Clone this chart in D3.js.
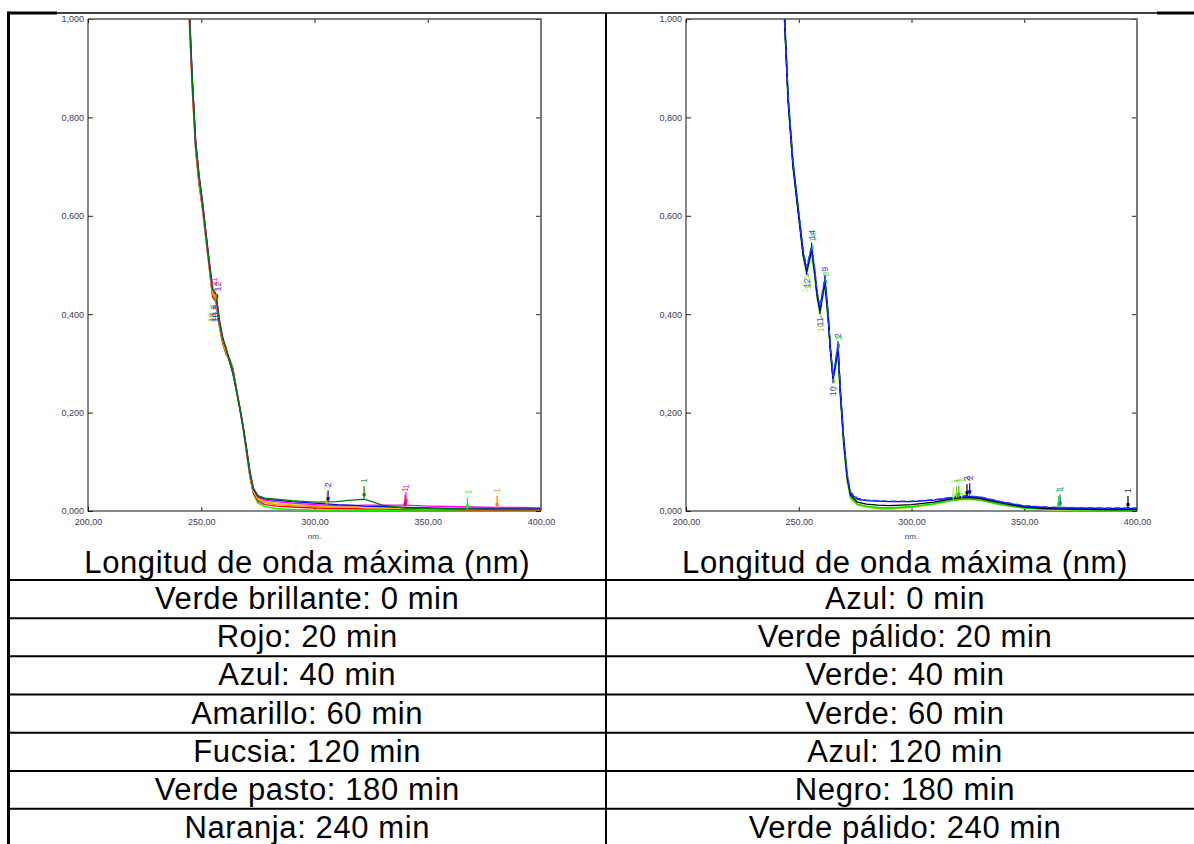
<!DOCTYPE html>
<html>
<head>
<meta charset="utf-8">
<script src="https://cdn.jsdelivr.net/npm/d3@7"></script>
<style>
  html, body { margin: 0; padding: 0; background: #fff; }
  svg { display: block; }
  text { font-family: "Liberation Sans", Arial, sans-serif; }
</style>
</head>
<body>
<svg id="chart" width="1194" height="844"></svg>
<script>
// ---------- data ----------
const xTicks = [200, 250, 300, 350, 400];
const yTicks = [0, 0.2, 0.4, 0.6, 0.8, 1.0];
const axisTitle = "Longitud de onda máxima (nm)";
const unitLabel = "nm.";

// Left panel: wavelengths (nm) and absorbance of each sample
const wlLeft = [244.5, 246, 247.5, 249, 250.5, 252, 253.5, 255, 256.5, 258, 259.5, 261, 262.5, 264, 265.5, 267, 268.5, 270, 271.5, 273, 275, 278, 283, 290, 300, 310, 316, 322, 330, 340, 350, 360, 370, 380, 390, 400];
const leftNames = ["Verde brillante: 0 min", "Rojo: 20 min", "Azul: 40 min", "Amarillo: 60 min", "Fucsia: 120 min", "Verde pasto: 180 min", "Naranja: 240 min"];
const leftColors = ["#00ff00", "#ff0000", "#0000ff", "#f0c000", "#ff00ff", "#008000", "#ff8000"];
const leftVerdeBrillante = [1.03, 0.87, 0.74, 0.67, 0.62, 0.56, 0.50, 0.44, 0.43, 0.38, 0.345, 0.32, 0.31, 0.29, 0.25, 0.21, 0.17, 0.12, 0.07, 0.035, 0.016, 0.009, 0.005, 0.003, 0.002, 0.002, 0.002, 0.001, 0.001, 0.001, 0.001, 0.001, 0.000, 0.000, 0.000, 0.000];
const leftRojo = [1.02, 0.86, 0.735, 0.665, 0.615, 0.555, 0.495, 0.435, 0.425, 0.375, 0.34, 0.318, 0.308, 0.288, 0.248, 0.208, 0.168, 0.118, 0.07, 0.037, 0.02, 0.013, 0.010, 0.008, 0.006, 0.005, 0.005, 0.004, 0.004, 0.003, 0.003, 0.003, 0.002, 0.002, 0.002, 0.002];
const leftAzul = [1.04, 0.88, 0.75, 0.68, 0.63, 0.565, 0.505, 0.45, 0.44, 0.385, 0.35, 0.33, 0.305, 0.28, 0.245, 0.21, 0.17, 0.125, 0.078, 0.045, 0.03, 0.025, 0.022, 0.019, 0.016, 0.013, 0.012, 0.010, 0.009, 0.007, 0.006, 0.005, 0.005, 0.004, 0.004, 0.004];
const leftAmarillo = [1.03, 0.875, 0.745, 0.675, 0.625, 0.56, 0.50, 0.445, 0.435, 0.38, 0.348, 0.325, 0.302, 0.278, 0.243, 0.207, 0.168, 0.122, 0.075, 0.042, 0.026, 0.02, 0.016, 0.013, 0.011, 0.009, 0.008, 0.007, 0.006, 0.005, 0.004, 0.004, 0.003, 0.003, 0.003, 0.003];
const leftFucsia = [1.05, 0.885, 0.755, 0.685, 0.63, 0.57, 0.51, 0.455, 0.44, 0.39, 0.352, 0.33, 0.305, 0.282, 0.247, 0.21, 0.172, 0.126, 0.077, 0.044, 0.028, 0.022, 0.019, 0.016, 0.013, 0.011, 0.011, 0.012, 0.012, 0.012, 0.010, 0.009, 0.008, 0.007, 0.007, 0.006];
const leftVerdePasto = [1.04, 0.88, 0.75, 0.68, 0.625, 0.565, 0.505, 0.45, 0.44, 0.385, 0.35, 0.328, 0.303, 0.28, 0.246, 0.21, 0.172, 0.127, 0.08, 0.047, 0.031, 0.026, 0.024, 0.021, 0.018, 0.019, 0.022, 0.024, 0.012, 0.006, 0.005, 0.004, 0.004, 0.003, 0.003, 0.003];
const leftNaranja = [1.03, 0.87, 0.745, 0.67, 0.62, 0.56, 0.50, 0.44, 0.43, 0.38, 0.343, 0.32, 0.306, 0.285, 0.25, 0.21, 0.17, 0.122, 0.073, 0.04, 0.023, 0.017, 0.013, 0.011, 0.009, 0.008, 0.008, 0.007, 0.006, 0.006, 0.005, 0.005, 0.004, 0.005, 0.004, 0.003];
const leftSeries = [leftVerdeBrillante, leftRojo, leftAzul, leftAmarillo, leftFucsia, leftVerdePasto, leftNaranja];
const leftOrder = [0, 1, 6, 3, 4, 2, 5];

// Left panel peak/valley picks: wavelength, absorbance, sample index, label, direction
const leftPicks = [
  { wl: 256.5, a: 0.43, s: 3, label: "12", dir: 1 },
  { wl: 257.2, a: 0.43, s: 2, label: "12", dir: 1 },
  { wl: 255.6, a: 0.44, s: 4, label: "11", dir: 1 },
  { wl: 254.4, a: 0.42, s: 0, label: "10", dir: -1 },
  { wl: 255.3, a: 0.42, s: 1, label: "11", dir: -1 },
  { wl: 256.1, a: 0.42, s: 2, label: "10", dir: -1 },
  { wl: 305.5, a: 0.011, s: 3, label: "2", dir: 1 },
  { wl: 306.0, a: 0.016, s: 2, label: "2", dir: 1 },
  { wl: 321.9, a: 0.024, s: 5, label: "1", dir: 1 },
  { wl: 340.4, a: 0.012, s: 4, label: "1", dir: 1 },
  { wl: 340.0, a: 0.006, s: 1, label: "1", dir: 1 },
  { wl: 367.5, a: 0.001, s: 0, label: "1", dir: 1 },
  { wl: 380.6, a: 0.004, s: 6, label: "1", dir: 1 }
];

// Right panel
const wlRight = [243.5, 245.3, 247.5, 249, 250.5, 252, 253.5, 254.5, 255.7, 257, 258.2, 259.4, 260.5, 261.6, 263, 264, 265.2, 266.3, 267.4, 268.5, 270, 271.5, 273, 276, 280, 285, 290, 300, 310, 318, 324, 330, 340, 350, 360, 370, 385, 400];
const rightNames = ["Azul: 0 min", "Verde pálido: 20 min", "Verde: 40 min", "Verde: 60 min", "Azul: 120 min", "Negro: 180 min", "Verde pálido: 240 min"];
const rightColors = ["#0000ff", "#99ff66", "#00e000", "#99cc00", "#2244ff", "#000000", "#ccff66"];
const rightAzul0 = [1.02, 0.835, 0.70, 0.64, 0.58, 0.52, 0.49, 0.51, 0.535, 0.49, 0.44, 0.41, 0.44, 0.47, 0.40, 0.33, 0.27, 0.30, 0.335, 0.24, 0.14, 0.07, 0.035, 0.024, 0.021, 0.020, 0.019, 0.019, 0.022, 0.027, 0.030, 0.028, 0.018, 0.010, 0.007, 0.006, 0.005, 0.005];
const rightVerdePalido20 = [1.01, 0.83, 0.695, 0.635, 0.575, 0.515, 0.48, 0.50, 0.52, 0.48, 0.43, 0.40, 0.43, 0.455, 0.39, 0.325, 0.265, 0.29, 0.32, 0.23, 0.13, 0.06, 0.025, 0.012, 0.008, 0.006, 0.006, 0.008, 0.014, 0.022, 0.026, 0.024, 0.014, 0.007, 0.004, 0.003, 0.002, 0.002];
const rightVerde40 = [1.03, 0.84, 0.705, 0.645, 0.585, 0.525, 0.485, 0.505, 0.53, 0.485, 0.435, 0.405, 0.435, 0.46, 0.395, 0.33, 0.27, 0.295, 0.325, 0.235, 0.135, 0.065, 0.028, 0.014, 0.010, 0.007, 0.006, 0.009, 0.015, 0.022, 0.025, 0.023, 0.013, 0.006, 0.004, 0.003, 0.002, 0.002];
const rightVerde60 = [1.02, 0.835, 0.70, 0.64, 0.58, 0.52, 0.483, 0.503, 0.525, 0.483, 0.433, 0.402, 0.432, 0.458, 0.392, 0.328, 0.268, 0.292, 0.322, 0.232, 0.132, 0.063, 0.027, 0.013, 0.009, 0.005, 0.004, 0.008, 0.014, 0.021, 0.024, 0.022, 0.012, 0.006, 0.003, 0.002, 0.002, 0.001];
const rightAzul120 = [1.03, 0.845, 0.71, 0.65, 0.59, 0.53, 0.495, 0.515, 0.54, 0.495, 0.445, 0.415, 0.445, 0.475, 0.405, 0.335, 0.275, 0.305, 0.34, 0.245, 0.145, 0.075, 0.038, 0.026, 0.022, 0.021, 0.020, 0.020, 0.023, 0.028, 0.031, 0.029, 0.019, 0.011, 0.008, 0.007, 0.006, 0.006];
const rightNegro180 = [1.02, 0.835, 0.70, 0.64, 0.58, 0.52, 0.487, 0.507, 0.532, 0.487, 0.437, 0.407, 0.437, 0.465, 0.398, 0.33, 0.27, 0.298, 0.33, 0.238, 0.138, 0.068, 0.032, 0.018, 0.014, 0.012, 0.011, 0.013, 0.018, 0.025, 0.028, 0.026, 0.016, 0.008, 0.005, 0.004, 0.003, 0.003];
const rightVerdePalido240 = [1.01, 0.83, 0.69, 0.63, 0.57, 0.51, 0.478, 0.498, 0.518, 0.478, 0.428, 0.398, 0.428, 0.453, 0.388, 0.322, 0.262, 0.288, 0.318, 0.228, 0.128, 0.058, 0.024, 0.011, 0.007, 0.004, 0.003, 0.007, 0.013, 0.021, 0.025, 0.023, 0.013, 0.006, 0.003, 0.002, 0.001, 0.001];
const rightSeries = [rightAzul0, rightVerdePalido20, rightVerde40, rightVerde60, rightAzul120, rightNegro180, rightVerdePalido240];
const rightOrder = [6, 1, 3, 2, 5, 0, 4];
const rightDashed = [false, false, false, false, true, false, false];

const rightPicks = [
  { wl: 255.7, a: 0.535, s: 0, label: "14", dir: 1 },
  { wl: 256.3, a: 0.53, s: 2, label: "14", dir: 1 },
  { wl: 253.5, a: 0.49, s: 0, label: "12", dir: -1 },
  { wl: 252.8, a: 0.48, s: 1, label: "12", dir: -1 },
  { wl: 254.2, a: 0.485, s: 3, label: "11", dir: -1 },
  { wl: 261.6, a: 0.47, s: 0, label: "9", dir: 1 },
  { wl: 262.2, a: 0.46, s: 2, label: "8", dir: 1 },
  { wl: 259.4, a: 0.41, s: 0, label: "11", dir: -1 },
  { wl: 260.0, a: 0.40, s: 3, label: "10", dir: -1 },
  { wl: 267.4, a: 0.335, s: 0, label: "2", dir: 1 },
  { wl: 268.0, a: 0.33, s: 2, label: "3", dir: 1 },
  { wl: 265.2, a: 0.27, s: 0, label: "10", dir: -1 },
  { wl: 265.8, a: 0.27, s: 3, label: "9", dir: -1 },
  { wl: 318.5, a: 0.022, s: 1, label: "1", dir: 1 },
  { wl: 320.0, a: 0.024, s: 3, label: "1", dir: 1 },
  { wl: 321.0, a: 0.025, s: 2, label: "1", dir: 1 },
  { wl: 322.3, a: 0.025, s: 6, label: "1", dir: 1 },
  { wl: 324.6, a: 0.028, s: 5, label: "2", dir: 1 },
  { wl: 325.8, a: 0.030, s: 0, label: "2", dir: 1 },
  { wl: 365.9, a: 0.007, s: 4, label: "1", dir: 1 },
  { wl: 365.3, a: 0.004, s: 2, label: "1", dir: 1 },
  { wl: 396.0, a: 0.004, s: 5, label: "1", dir: 1 }
];

// ---------- layout ----------
const svg = d3.select("#chart");
const W = 1194, H = 844;
const tableLeft = 8.5, tableMid = 606, tableTop = 13;
const rowLines = [580, 618.3, 656.3, 694.6, 732.7, 771, 808.8];
const fontBig = 31;
const bigSpacing = 0.6;

const panels = [
  { id: "L", x0: 88, x1: 541, wl: wlLeft, series: leftSeries, colors: leftColors, order: leftOrder, dashed: null, picks: leftPicks, names: leftNames, cx: (tableLeft + tableMid) / 2 },
  { id: "R", x0: 686, x1: 1137, wl: wlRight, series: rightSeries, colors: rightColors, order: rightOrder, dashed: rightDashed, picks: rightPicks, names: rightNames, cx: 905 }
];
const plotTop = 19, plotBottom = 511;

const defs = svg.append("defs");
const fmtY = d => d3.format(".3f")(d).replace(".", ",");
const fmtX = d => d3.format(".2f")(d).replace(".", ",");
const tickColor = "#3c3c5a";

panels.forEach(p => {
  const x = d3.scaleLinear().domain([200, 400]).range([p.x0, p.x1]);
  const y = d3.scaleLinear().domain([0, 1]).range([plotBottom, plotTop]);

  defs.append("clipPath").attr("id", "clip" + p.id)
    .append("rect").attr("x", p.x0).attr("y", plotTop)
    .attr("width", p.x1 - p.x0).attr("height", plotBottom - plotTop);

  const g = svg.append("g");

  // axes with inward ticks
  const ax = g.append("g").attr("transform", `translate(0,${plotBottom})`)
    .call(d3.axisBottom(x).tickValues(xTicks).tickSizeInner(-4).tickSizeOuter(0).tickPadding(8).tickFormat(fmtX));
  const axTop = g.append("g").attr("transform", `translate(0,${plotTop})`)
    .call(d3.axisTop(x).tickValues(xTicks).tickSizeInner(-4).tickSizeOuter(0).tickFormat(""));
  const ay = g.append("g").attr("transform", `translate(${p.x0},0)`)
    .call(d3.axisLeft(y).tickValues(yTicks).tickSizeInner(-5).tickSizeOuter(0).tickPadding(4).tickFormat(fmtY));
  const ayR = g.append("g").attr("transform", `translate(${p.x1},0)`)
    .call(d3.axisRight(y).tickValues(yTicks).tickSizeInner(-5).tickSizeOuter(0).tickFormat(""));
  [ax, axTop, ay, ayR].forEach(a => {
    a.select(".domain").remove();
    a.selectAll("line").attr("stroke", "#222").attr("stroke-width", 1);
    a.selectAll("text").attr("fill", tickColor).attr("font-size", 9)
      .style("font-family", '"Liberation Sans", Arial, sans-serif');
  });

  // frame
  g.append("line").attr("x1", p.x0).attr("x2", p.x1 + 1).attr("y1", plotTop).attr("y2", plotTop)
    .attr("stroke", "#555").attr("stroke-width", 1.5);
  g.append("line").attr("x1", p.x1).attr("x2", p.x1).attr("y1", plotTop).attr("y2", plotBottom)
    .attr("stroke", "#777").attr("stroke-width", 2);
  g.append("line").attr("x1", p.x0).attr("x2", p.x0).attr("y1", plotTop).attr("y2", plotBottom + 0.5)
    .attr("stroke", "#111").attr("stroke-width", 1);
  g.append("line").attr("x1", p.x0).attr("x2", p.x1).attr("y1", plotBottom).attr("y2", plotBottom)
    .attr("stroke", "#111").attr("stroke-width", 1);

  g.append("text").attr("x", (p.x0 + p.x1) / 2).attr("y", 539)
    .attr("text-anchor", "middle").attr("font-size", 8).attr("fill", tickColor).text(unitLabel);

  // spectra
  const line = d3.line().x(d => x(d[0])).y(d => y(d[1]));
  const curves = g.append("g").attr("clip-path", `url(#clip${p.id})`);
  p.order.forEach(i => {
    const pts = p.wl.map((w, k) => [w, p.series[i][k]]);
    curves.append("path").datum(pts)
      .attr("d", line)
      .attr("fill", "none")
      .attr("stroke", p.colors[i])
      .attr("stroke-width", 1.4)
      .attr("stroke-linejoin", "round")
      .attr("stroke-dasharray", p.dashed && p.dashed[i] ? "6,3" : null);
  });

  // peak / valley picks
  const pk = g.append("g");
  p.picks.forEach(d => {
    const px = x(d.wl), py = y(d.a);
    const len = d.a < 0.1 ? 13 : 5;
    const y2 = py - d.dir * len;
    pk.append("line").attr("x1", px).attr("x2", px)
      .attr("y1", py - d.dir * 1).attr("y2", y2)
      .attr("stroke", p.colors[d.s]).attr("stroke-width", 1.2);
    if (d.a < 0.1) {
      pk.append("rect").attr("x", px - 1.5).attr("y", py - 6).attr("width", 3).attr("height", 3)
        .attr("fill", p.colors[d.s]);
    }
    pk.append("text")
      .attr("transform", `translate(${px},${y2 - d.dir * 3}) rotate(-90)`)
      .attr("text-anchor", d.dir > 0 ? "start" : "end")
      .attr("dy", "0.35em")
      .attr("font-size", 9)
      .attr("fill", p.colors[d.s])
      .attr("opacity", 0.8)
      .text(d.label);
  });

  // table texts
  svg.append("text").attr("x", p.cx).attr("y", 573).attr("text-anchor", "middle")
    .attr("font-size", fontBig).attr("letter-spacing", bigSpacing).attr("fill", "#000").text(axisTitle);
  p.names.forEach((n, i) => {
    svg.append("text").attr("x", p.cx).attr("y", rowLines[i] + 29).attr("text-anchor", "middle")
      .attr("font-size", fontBig).attr("letter-spacing", bigSpacing).attr("fill", "#000").text(n);
  });
});

// table grid
const grid = svg.append("g").attr("stroke", "#000");
grid.append("line").attr("x1", tableLeft).attr("x2", W).attr("y1", tableTop).attr("y2", tableTop).attr("stroke-width", 1.5);
grid.append("line").attr("x1", tableLeft).attr("x2", 57).attr("y1", tableTop).attr("y2", tableTop).attr("stroke-width", 3);
grid.append("line").attr("x1", 1157).attr("x2", W).attr("y1", tableTop).attr("y2", tableTop).attr("stroke-width", 3);
rowLines.forEach(r => {
  grid.append("line").attr("x1", tableLeft).attr("x2", W).attr("y1", r).attr("y2", r).attr("stroke-width", 2);
});
grid.append("line").attr("x1", tableLeft).attr("x2", tableLeft).attr("y1", tableTop - 1.5).attr("y2", H).attr("stroke-width", 3);
grid.append("line").attr("x1", tableMid).attr("x2", tableMid).attr("y1", tableTop).attr("y2", H).attr("stroke-width", 2);
</script>
</body>
</html>
